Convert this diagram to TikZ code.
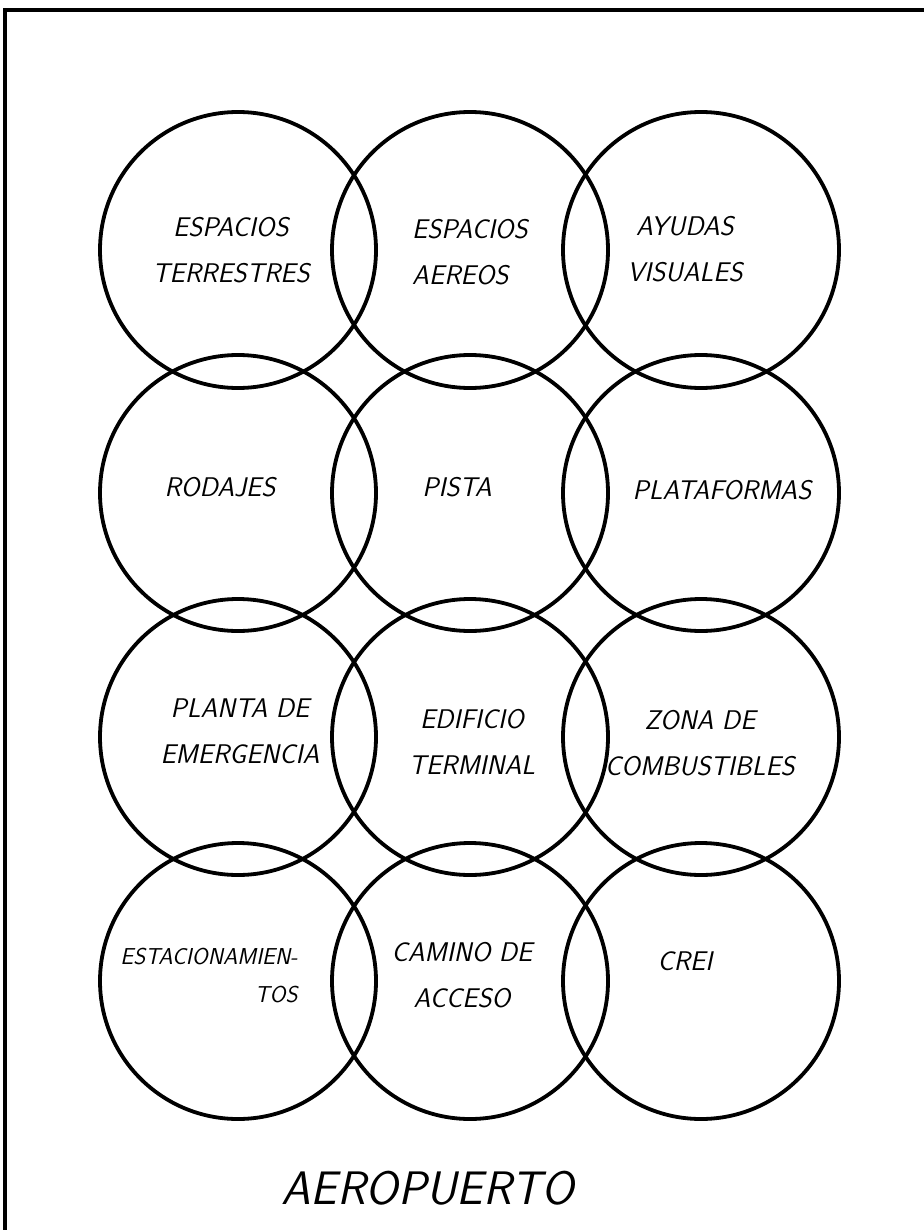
\documentclass[tikz,border=0pt]{standalone}
\usepackage{tikz}

\begin{document}
\begin{tikzpicture}[
  x=1pt, y=-1pt,
  zone/.style={circle, draw=black, line width=3.8pt, minimum size=276pt, inner sep=0pt},
  tag/.style={font=\fontsize{27}{46}\selectfont\sffamily\itshape, align=center},
  heading/.style={font=\fontsize{47}{56}\selectfont\sffamily\itshape}
]
\useasboundingbox (0,0) rectangle (923,1230);
% frame (cut off at right and bottom)
\draw[line width=3.8pt] (5,1240) -- (5,10) -- (930,10);
% circles, 4 rows x 3 columns
\foreach \r/\y in {1/250,2/493,3/737,4/981}
  \foreach \c/\x in {1/238,2/470,3/701}
    \node[zone] (z\r\c) at (\x,\y) {};
% labels
\node[tag] (t11) at ([xshift=-7pt]z11) {ESPACIOS\\TERRESTRES};
\node[tag, align=left] (t12) at ([yshift=-2pt]z12) {ESPACIOS\\AEREOS};
\node[tag] (t13) at ([xshift=-16pt,yshift=1pt]z13) {AYUDAS\\VISUALES};
\node[tag] (t21) at ([xshift=-18pt,yshift=6pt]z21) {RODAJES};
\node[tag] (t22) at ([xshift=-13pt,yshift=6pt]z22) {PISTA};
\node[tag] (t23) at ([xshift=21pt,yshift=3pt]z23) {PLATAFORMAS};
\node[tag] (t31) at ([xshift=2pt,yshift=6pt]z31) {PLANTA DE\\EMERGENCIA};
\node[tag] (t32) at ([xshift=2pt,yshift=-5pt]z32) {EDIFICIO\\TERMINAL};
\node[tag] (t33) at ([xshift=-1pt,yshift=-6pt]z33) {ZONA DE\\COMBUSTIBLES};
\node[tag, align=right, font=\fontsize{23}{38}\selectfont\sffamily\itshape]
  (t41) at ([xshift=-29pt,yshift=5pt]z41) {ESTACIONAMIEN-\\TOS};
\node[tag] (t42) at ([xshift=-8pt,yshift=6pt]z42) {CAMINO DE\\ACCESO};
\node[tag] (t43) at ([xshift=-16pt,yshift=20pt]z43) {CREI};
% title
\node[heading] (title) at (428,1188) {AEROPUERTO};
\end{tikzpicture}
\end{document}
